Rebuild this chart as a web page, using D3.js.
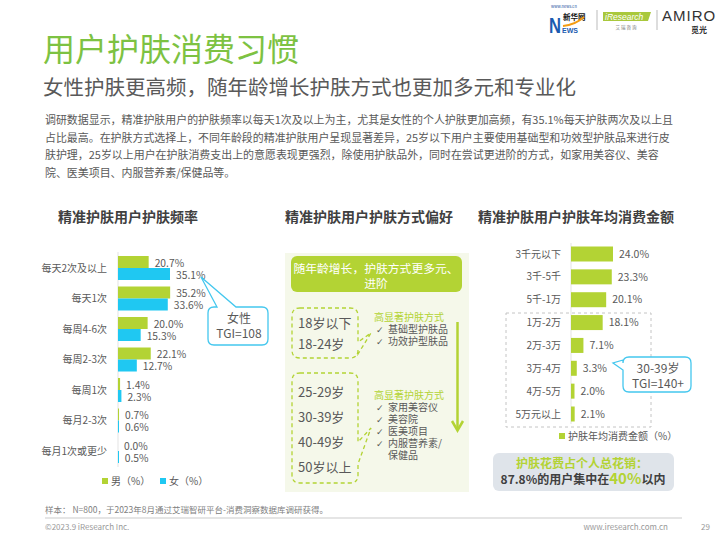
<!DOCTYPE html>
<html><head><meta charset="utf-8">
<script src="https://cdn.jsdelivr.net/npm/d3@7/dist/d3.min.js"></script>
<style>
html,body{margin:0;padding:0;background:#fff;}
svg{display:block;font-family:"Noto Sans CJK SC","Noto Sans",sans-serif;}
</style></head>
<body>
<svg id="c" width="720" height="540"></svg>
<script>
// ---------- data ----------
const pageTitle = "用户护肤消费习惯";
const pageSubtitle = "女性护肤更高频，随年龄增长护肤方式也更加多元和专业化";
const paragraphLines = [
  "调研数据显示，精准护肤用户的护肤频率以每天1次及以上为主，尤其是女性的个人护肤更加高频，有35.1%每天护肤两次及以上且",
  "占比最高。在护肤方式选择上，不同年龄段的精准护肤用户呈现显著差异，25岁以下用户主要使用基础型和功效型护肤品来进行皮",
  "肤护理，25岁以上用户在护肤消费支出上的意愿表现更强烈，除使用护肤品外，同时在尝试更进阶的方式，如家用美容仪、美容",
  "院、医美项目、内服营养素/保健品等。"
];
const sectionTitles = ["精准护肤用户护肤频率", "精准护肤用户护肤方式偏好", "精准护肤用户护肤年均消费金额"];

const freqCategories = ["每天2次及以上", "每天1次", "每周4-6次", "每周2-3次", "每周1次", "每月2-3次", "每月1次或更少"];
const maleValues   = [20.7, 35.2, 20.0, 22.1, 1.4, 0.7, 0.0];
const femaleValues = [35.1, 33.6, 15.3, 12.7, 2.3, 0.6, 0.5];
const freqLegend = ["男（%）", "女（%）"];
const femaleCallout = ["女性", "TGI=108"];

const methodBanner = ["随年龄增长，护肤方式更多元、", "进阶"];
const youngAges = ["18岁以下", "18-24岁"];
const olderAges = ["25-29岁", "30-39岁", "40-49岁", "50岁以上"];
const methodHeading = "高显著护肤方式";
const youngMethods = ["基础型护肤品", "功效护型肤品"];
const olderMethods = ["家用美容仪", "美容院", "医美项目", "内服营养素/", "保健品"];

const spendCategories = ["3千元以下", "3千-5千", "5千-1万", "1万-2万", "2万-3万", "3万-4万", "4万-5万", "5万元以上"];
const spendValues = [24.0, 23.3, 20.1, 18.1, 7.1, 3.3, 2.0, 2.1];
const spendLegend = "护肤年均消费金额（%）";
const spendCallout = ["30-39岁", "TGI=140+"];
const spendNoteLine1 = "护肤花费占个人总花销：";
const spendNoteLine2 = ["87.8%的用户集中在", "40%", "以内"];

const footnote = "样本： N=800，于2023年8月通过艾瑞智研平台-消费洞察数据库调研获得。";
const copyright = "©2023.9 iResearch Inc.";
const website = "www.iresearch.com.cn";
const pageNo = "29";

// ---------- style ----------
const GREEN = "#b3d334", BLUE = "#1fc8f2", TITLE_GREEN = "#7dc242";
const TXT = "#595959", DARK = "#404040";

const svg = d3.select("#c");

// ---------- logos ----------
const logo = svg.append("g");
logo.append("text").attr("x", 551).attr("y", 8).attr("font-size", 4).attr("fill", "#1a4fa0").text("www.news.cn");
logo.append("text").attr("x", 549).attr("y", 33).attr("font-size", 22).attr("font-weight", "bold")
  .attr("textLength", 12).attr("lengthAdjust", "spacingAndGlyphs")
  .attr("font-family", "Liberation Sans, Arial").attr("fill", "#1b5bb0").text("N");
logo.append("text").attr("x", 563).attr("y", 20).attr("font-size", 7.5).attr("font-weight", "bold").attr("fill", "#111").text("新华网");
logo.append("path").attr("d", "M563,26 Q575,25 584,17").attr("fill", "none").attr("stroke", "#f39c12").attr("stroke-width", 2);
logo.append("text").attr("x", 562).attr("y", 33).attr("font-size", 7).attr("font-weight", "bold")
  .attr("font-family", "Liberation Sans, Arial").attr("fill", "#1b5bb0").text("EWS");
logo.append("line").attr("x1", 597).attr("x2", 597).attr("y1", 10).attr("y2", 30).attr("stroke", "#bbb");
logo.append("path").attr("d", "M603,12 L651,12 L648,21 L603,21 Z").attr("fill", "#a9c83c");
logo.append("text").attr("x", 605).attr("y", 19.5).attr("font-size", 8.5).attr("font-style", "italic")
  .attr("font-family", "Liberation Sans, Arial").attr("fill", "#fff").text("iResearch");
logo.append("text").attr("x", 626).attr("y", 29).attr("text-anchor", "middle").attr("font-size", 4.5).attr("fill", "#777").text("艾   瑞   咨   询");
logo.append("line").attr("x1", 657).attr("x2", 657).attr("y1", 10).attr("y2", 30).attr("stroke", "#bbb");
logo.append("text").attr("x", 662).attr("y", 21).attr("font-size", 15).attr("letter-spacing", 1)
  .attr("font-family", "Liberation Sans, Arial").attr("fill", "#333").text("AMIRO");
logo.append("text").attr("x", 699).attr("y", 33).attr("text-anchor", "middle").attr("font-size", 8).attr("font-weight", "bold").attr("fill", "#333").text("觅光");

// ---------- header ----------
svg.append("text").attr("x", 43).attr("y", 61).attr("font-size", 32).attr("fill", TITLE_GREEN).text(pageTitle);
svg.append("text").attr("x", 43).attr("y", 95).attr("font-size", 20.5).attr("fill", TXT).text(pageSubtitle);
svg.append("g").selectAll("text").data(paragraphLines).join("text")
  .attr("x", 45).attr("y", (d, i) => 124 + i * 17.7)
  .attr("font-size", 10.95).attr("fill", TXT).text(d => d);

// section titles
const titleX = [128, 369, 576];
svg.append("g").selectAll("text").data(sectionTitles).join("text")
  .attr("x", (d, i) => titleX[i]).attr("y", 222).attr("text-anchor", "middle")
  .attr("font-size", 14).attr("font-weight", "bold").attr("fill", DARK).text(d => d);

// ---------- left chart: frequency ----------
const fx = d3.scaleLinear().domain([0, 35.1]).range([118, 170]);
const fy = d3.scalePoint().domain(freqCategories).range([268, 451]);
const BH = 12;
const left = svg.append("g");
left.append("line").attr("x1", 118).attr("x2", 118).attr("y1", 252).attr("y2", 467).attr("stroke", "#e3e3e3");
left.selectAll("rect.m").data(freqCategories).join("rect").attr("class", "m")
  .attr("x", fx(0)).attr("y", d => fy(d) - BH).attr("height", BH)
  .attr("width", (d, i) => fx(maleValues[i]) - fx(0)).attr("fill", GREEN);
left.selectAll("rect.f").data(freqCategories).join("rect").attr("class", "f")
  .attr("x", fx(0)).attr("y", d => fy(d)).attr("height", BH)
  .attr("width", (d, i) => Math.max(1, fx(femaleValues[i]) - fx(0))).attr("fill", BLUE);
left.selectAll("text.cat").data(freqCategories).join("text").attr("class", "cat")
  .attr("x", 107).attr("y", d => fy(d)).attr("dy", "0.35em").attr("text-anchor", "end")
  .attr("font-size", 10).attr("fill", TXT).text(d => d);
left.selectAll("text.mv").data(freqCategories).join("text").attr("class", "mv")
  .attr("x", (d, i) => fx(maleValues[i]) + 6).attr("y", d => fy(d) - 5).attr("dy", "0.35em")
  .attr("font-size", 10.3).attr("fill", TXT).text((d, i) => maleValues[i].toFixed(1) + "%");
left.selectAll("text.fv").data(freqCategories).join("text").attr("class", "fv")
  .attr("x", (d, i) => fx(femaleValues[i]) + 6).attr("y", d => fy(d) + 7).attr("dy", "0.35em")
  .attr("font-size", 10.3).attr("fill", TXT).text((d, i) => femaleValues[i].toFixed(1) + "%");
// legend
const legColors = [GREEN, BLUE], legX = [102, 160];
freqLegend.forEach((t, i) => {
  left.append("rect").attr("x", legX[i]).attr("y", 478).attr("width", 6).attr("height", 6).attr("fill", legColors[i]);
  left.append("text").attr("x", legX[i] + 9).attr("y", 481).attr("dy", "0.35em").attr("font-size", 10).attr("fill", TXT).text(t);
});
// callout
function roundedCallout(g, x0, y0, x1, y1, r, tail, stroke) {
  let p = "";
  p += `M${x0 + r},${y0}`;
  if (tail.side === "top") p += `L${tail.a},${y0}L${tail.tx},${tail.ty}L${tail.b},${y0}`;
  p += `L${x1 - r},${y0}Q${x1},${y0} ${x1},${y0 + r}`;
  p += `L${x1},${y1 - r}Q${x1},${y1} ${x1 - r},${y1}`;
  p += `L${x0 + r},${y1}Q${x0},${y1} ${x0},${y1 - r}`;
  if (tail.side === "left") p += `L${x0},${tail.b}L${tail.tx},${tail.ty}L${x0},${tail.a}`;
  p += `L${x0},${y0 + r}Q${x0},${y0} ${x0 + r},${y0}Z`;
  g.append("path").attr("d", p).attr("fill", "#fff").attr("stroke", stroke).attr("stroke-width", 1.3);
}
roundedCallout(left, 208, 307, 268, 345, 6, {side: "top", a: 217, b: 236, tx: 201, ty: 277}, "#44c7ee");
femaleCallout.forEach((t, i) => {
  left.append("text").attr("x", 239).attr("y", 319 + i * 14.5).attr("dy", "0.35em").attr("text-anchor", "middle")
    .attr("font-size", 12).attr("fill", TXT).text(t);
});

// ---------- middle panel ----------
const mid = svg.append("g");
mid.append("rect").attr("x", 285).attr("y", 253).attr("width", 184).attr("height", 239).attr("fill", "#f5f8ea");
mid.append("rect").attr("x", 291).attr("y", 256).attr("width", 171).attr("height", 36).attr("rx", 6).attr("fill", GREEN);
methodBanner.forEach((t, i) => {
  mid.append("text").attr("x", 376).attr("y", 269 + i * 14.5).attr("dy", "0.35em").attr("text-anchor", "middle")
    .attr("font-size", 11.8).attr("fill", "#fff").text(t);
});
function dashedBox(g, x0, y0, x1, y1, r, ta, tb, tx, ty) {
  const p = `M${x0 + r},${y0}L${x1 - r},${y0}Q${x1},${y0} ${x1},${y0 + r}L${x1},${ta}L${tx},${ty}L${x1},${tb}` +
    `L${x1},${y1 - r}Q${x1},${y1} ${x1 - r},${y1}L${x0 + r},${y1}Q${x0},${y1} ${x0},${y1 - r}L${x0},${y0 + r}Q${x0},${y0} ${x0 + r},${y0}Z`;
  g.append("path").attr("d", p).attr("fill", "none").attr("stroke", GREEN).attr("stroke-width", 1.3).attr("stroke-dasharray", "4,3");
}
dashedBox(mid, 292, 308, 358, 358, 8, 342, 354, 371, 333);
dashedBox(mid, 292, 373, 358, 483, 8, 442, 464, 371, 428);
youngAges.forEach((t, i) => {
  mid.append("text").attr("x", 298).attr("y", 323 + i * 21.5).attr("dy", "0.35em").attr("font-size", 13).attr("fill", TXT).text(t);
});
olderAges.forEach((t, i) => {
  mid.append("text").attr("x", 298).attr("y", 392 + i * 25).attr("dy", "0.35em").attr("font-size", 13).attr("fill", TXT).text(t);
});
function methodList(g, y0, items) {
  g.append("text").attr("x", 374).attr("y", y0).attr("dy", "0.35em").attr("font-size", 10).attr("fill", GREEN).text(methodHeading);
  items.forEach((t, i) => {
    const y = y0 + 12.5 + i * 12;
    const cont = i > 0 && items[i - 1].endsWith("/");
    if (!cont) g.append("text").attr("x", 376).attr("y", y).attr("dy", "0.35em").attr("font-size", 9)
      .attr("font-family", "DejaVu Sans").attr("fill", TXT).text("✓");
    g.append("text").attr("x", 388).attr("y", y).attr("dy", "0.35em").attr("font-size", 10).attr("fill", TXT).text(t);
  });
}
methodList(mid, 317, youngMethods);
methodList(mid, 395, olderMethods);
mid.append("line").attr("x1", 457.5).attr("x2", 457.5).attr("y1", 322).attr("y2", 430).attr("stroke", GREEN).attr("stroke-width", 2.5);
mid.append("path").attr("d", "M452,421 L457.5,430.5 L463,421").attr("fill", "none").attr("stroke", GREEN).attr("stroke-width", 2.5);

// ---------- right chart: spending ----------
const sx = d3.scaleLinear().domain([0, 24]).range([571, 613]);
const sy = d3.scalePoint().domain(spendCategories).range([254, 414]);
const right = svg.append("g");
right.append("rect").attr("x", 506).attr("y", 313).attr("width", 145).attr("height", 114)
  .attr("fill", "none").attr("stroke", "#c4c4c4").attr("stroke-dasharray", "3,3");
right.append("line").attr("x1", 571).attr("x2", 571).attr("y1", 243).attr("y2", 424).attr("stroke", "#e3e3e3");
right.selectAll("rect.b").data(spendCategories).join("rect").attr("class", "b")
  .attr("x", sx(0)).attr("y", d => sy(d) - 7.5).attr("height", 15)
  .attr("width", (d, i) => sx(spendValues[i]) - sx(0)).attr("fill", GREEN);
right.selectAll("text.cat").data(spendCategories).join("text").attr("class", "cat")
  .attr("x", 561).attr("y", d => sy(d)).attr("dy", "0.35em").attr("text-anchor", "end")
  .attr("font-size", 10).attr("fill", TXT).text(d => d);
right.selectAll("text.v").data(spendCategories).join("text").attr("class", "v")
  .attr("x", (d, i) => sx(spendValues[i]) + 6).attr("y", d => sy(d)).attr("dy", "0.35em")
  .attr("font-size", 10.5).attr("fill", TXT).text((d, i) => spendValues[i].toFixed(1) + "%");
right.append("rect").attr("x", 559).attr("y", 433).attr("width", 6).attr("height", 6).attr("fill", GREEN);
right.append("text").attr("x", 568).attr("y", 436).attr("dy", "0.35em").attr("font-size", 10).attr("fill", TXT).text(spendLegend);
roundedCallout(right, 623, 357, 691, 392, 6, {side: "left", a: 360, b: 370, tx: 613, ty: 363}, "#44c7ee");
spendCallout.forEach((t, i) => {
  right.append("text").attr("x", 658).attr("y", 369 + i * 14.5).attr("dy", "0.35em").attr("text-anchor", "middle")
    .attr("font-size", 12).attr("fill", TXT).text(t);
});
right.append("rect").attr("x", 493).attr("y", 453).attr("width", 181).attr("height", 38).attr("rx", 6).attr("fill", "#dfe4ea");
right.append("text").attr("x", 582).attr("y", 463.5).attr("dy", "0.35em").attr("text-anchor", "middle")
  .attr("font-size", 12).attr("font-weight", "bold").attr("fill", GREEN).text(spendNoteLine1);
const l2 = right.append("text").attr("x", 583).attr("y", 480).attr("dy", "0.35em").attr("text-anchor", "middle")
  .attr("font-size", 12).attr("font-weight", "bold").attr("fill", DARK);
l2.append("tspan").text(spendNoteLine2[0]);
l2.append("tspan").attr("fill", GREEN).attr("font-size", 15).text(spendNoteLine2[1]);
l2.append("tspan").text(spendNoteLine2[2]);

// ---------- footer ----------
svg.append("text").attr("x", 45).attr("y", 510).attr("dy", "0.35em").attr("font-size", 8.5).attr("fill", "#808080").text(footnote);
svg.append("line").attr("x1", 45).attr("x2", 682).attr("y1", 518).attr("y2", 518).attr("stroke", "#dcdcdc").attr("stroke-width", 1.5);
svg.append("text").attr("x", 45).attr("y", 527).attr("dy", "0.35em").attr("font-size", 8).attr("fill", "#999").text(copyright);
svg.append("text").attr("x", 668).attr("y", 527).attr("dy", "0.35em").attr("text-anchor", "end").attr("font-size", 8).attr("fill", "#999").text(website);
svg.append("text").attr("x", 701).attr("y", 527).attr("dy", "0.35em").attr("font-size", 8).attr("fill", "#999").text(pageNo);
</script>
</body></html>
